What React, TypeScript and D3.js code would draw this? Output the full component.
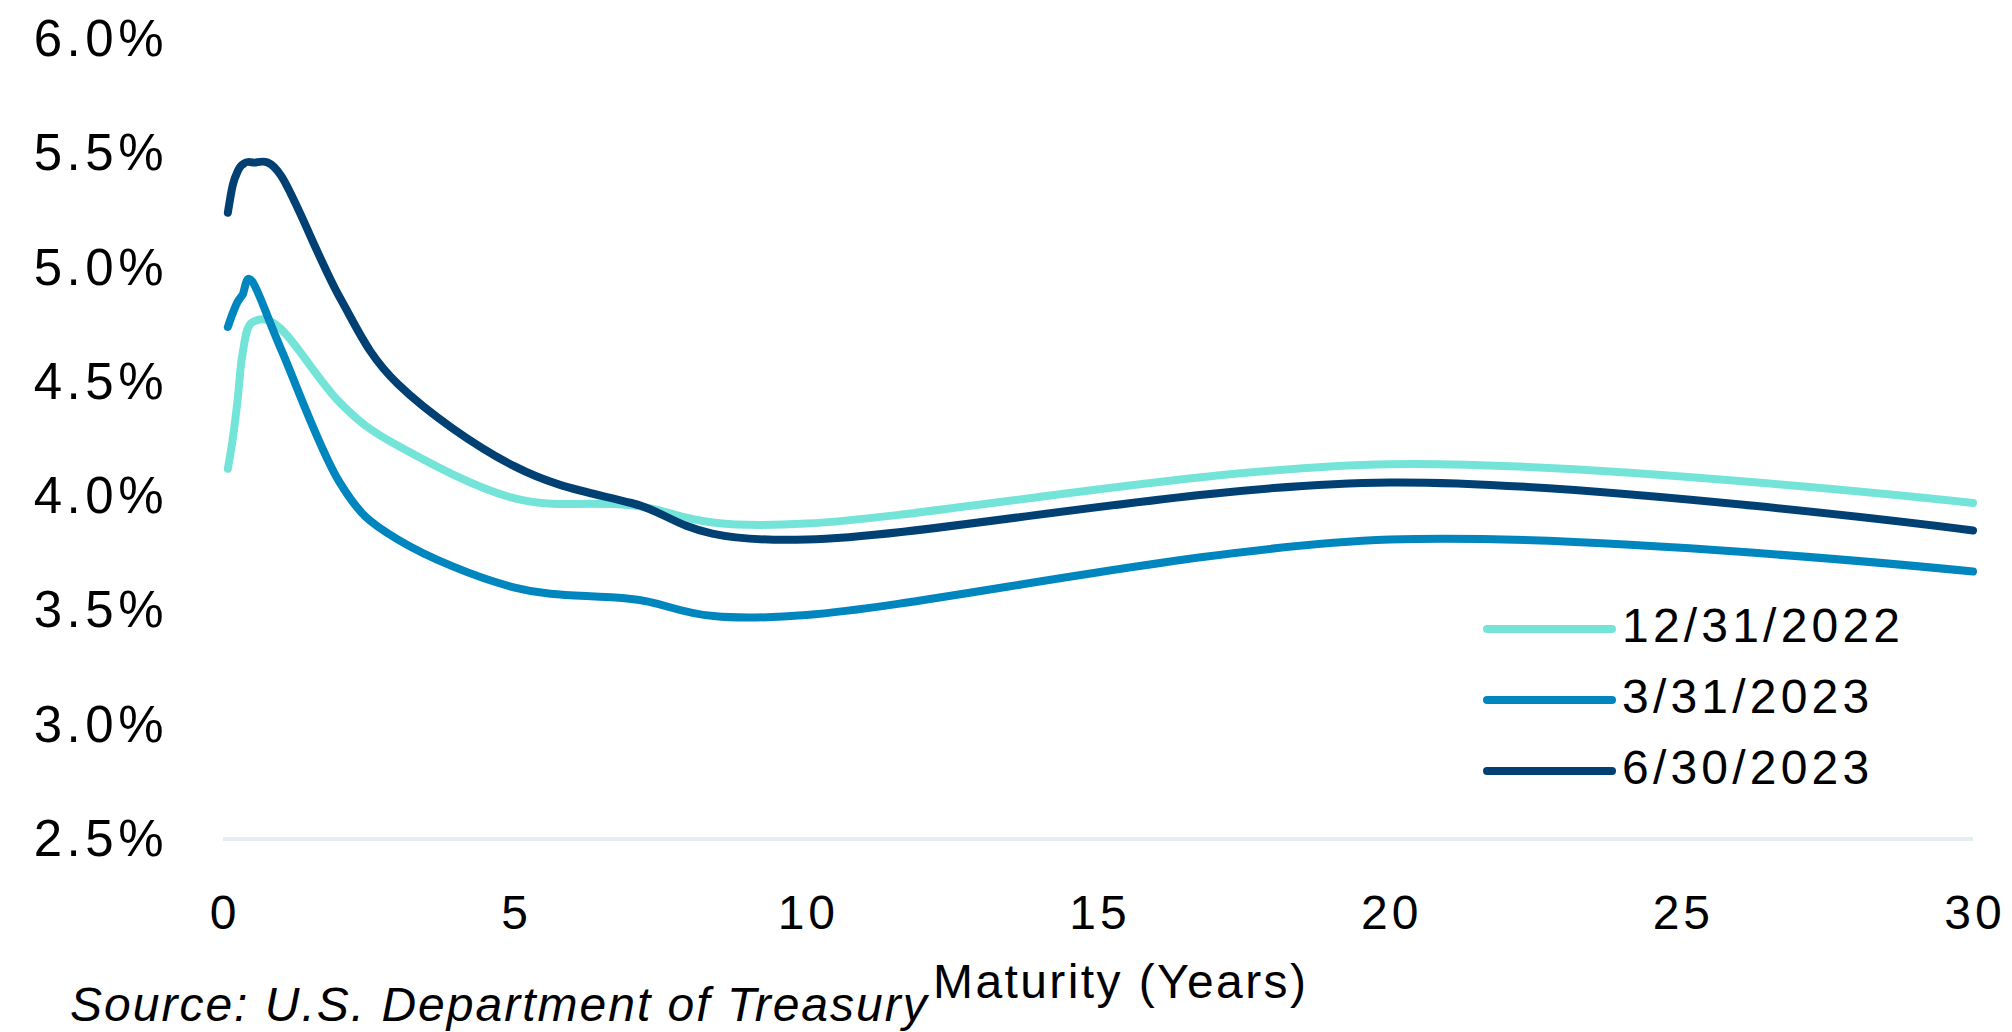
import React, { useEffect, useRef } from 'react';
import * as d3 from 'd3';

// Treasury yield curves, maturity in years and yield in %
const maturities = [1 / 12, 2 / 12, 3 / 12, 4 / 12, 0.5, 1, 2, 3, 5, 7, 10, 20, 30];
const yieldsDec2022 = [4.12, 4.25, 4.42, 4.62, 4.76, 4.73, 4.41, 4.22, 3.99, 3.96, 3.88, 4.14, 3.97];
const yieldsMar2023 = [4.74, 4.8, 4.85, 4.88, 4.94, 4.64, 4.06, 3.81, 3.6, 3.55, 3.48, 3.81, 3.67];
const yieldsJun2023 = [5.24, 5.36, 5.42, 5.45, 5.46, 5.4, 4.87, 4.49, 4.13, 3.97, 3.81, 4.06, 3.85];

const seriesNames = ['12/31/2022', '3/31/2023', '6/30/2023'];
const seriesColors = ['#75e4d8', '#0086be', '#004073'];
const xTicks = [0, 5, 10, 15, 20, 25, 30];
const yTicks = [2.5, 3.0, 3.5, 4.0, 4.5, 5.0, 5.5, 6.0];

const width = 2012;
const height = 1032;
const plot = {
  left: 223, right: 1973, top: 39, bottom: 839,
};
const font = "'Liberation Sans', Arial, sans-serif";

const App: React.FC = () => {
  const svgRef = useRef<SVGSVGElement>(null);

  useEffect(() => {
    const svg = d3.select(svgRef.current);
    svg.selectAll('*').remove();

    const x = d3.scaleLinear().domain([0, 30]).range([plot.left, plot.right]);
    const y = d3.scaleLinear().domain([2.5, 6.0]).range([plot.bottom, plot.top]);

    // Bottom gridline (only the baseline shows)
    svg.append('line')
      .attr('x1', x(0))
      .attr('x2', x(30))
      .attr('y1', y(2.5))
      .attr('y2', y(2.5))
      .attr('stroke', '#e4eeee')
      .attr('stroke-width', 4);

    // Y axis labels
    svg.append('g')
      .selectAll('text')
      .data(yTicks)
      .join('text')
      .attr('x', 168)
      .attr('y', (d) => y(d) + 17)
      .attr('text-anchor', 'end')
      .attr('font-family', font)
      .attr('font-size', 51)
      .attr('letter-spacing', 4.5)
      .attr('fill', '#000')
      .text((d) => `${d.toFixed(1)}%`);

    // X axis labels
    svg.append('g')
      .selectAll('text')
      .data(xTicks)
      .join('text')
      .attr('x', (d) => x(d) + 2)
      .attr('y', 929)
      .attr('text-anchor', 'middle')
      .attr('font-family', font)
      .attr('font-size', 48)
      .attr('letter-spacing', 4)
      .attr('fill', '#000')
      .text((d) => d);

    // Curves
    const series = [yieldsDec2022, yieldsMar2023, yieldsJun2023];
    const line = d3.line<number>()
      .x((_, i) => x(maturities[i]))
      .y((d) => y(d))
      .curve(d3.curveCardinal.tension(0));

    series.forEach((values, i) => {
      svg.append('path')
        .datum(values)
        .attr('d', line)
        .attr('fill', 'none')
        .attr('stroke', seriesColors[i])
        .attr('stroke-width', 8)
        .attr('stroke-linecap', 'round')
        .attr('stroke-linejoin', 'round');
    });

    // Legend
    const legend = svg.append('g').attr('transform', 'translate(1487,629)');
    seriesNames.forEach((name, i) => {
      const g = legend.append('g').attr('transform', `translate(0,${i * 71})`);
      g.append('line')
        .attr('x1', 0)
        .attr('x2', 125)
        .attr('stroke', seriesColors[i])
        .attr('stroke-width', 8)
        .attr('stroke-linecap', 'round');
      g.append('text')
        .attr('x', 135)
        .attr('y', 13)
        .attr('font-family', font)
        .attr('font-size', 48)
        .attr('letter-spacing', 4.2)
        .attr('fill', '#000')
        .text(name);
    });

    // Axis title and source note
    svg.append('text')
      .attr('x', 933)
      .attr('y', 998)
      .attr('font-family', font)
      .attr('font-size', 48)
      .attr('letter-spacing', 2.4)
      .attr('fill', '#000')
      .text('Maturity (Years)');

    svg.append('text')
      .attr('x', 70)
      .attr('y', 1021)
      .attr('font-family', font)
      .attr('font-size', 48)
      .attr('font-style', 'italic')
      .attr('letter-spacing', 2)
      .attr('fill', '#000')
      .text('Source: U.S. Department of Treasury');
  }, []);

  return (
    <svg
      ref={svgRef}
      width={width}
      height={height}
      style={{
        position: 'absolute', left: 0, top: 0, background: '#fff',
      }}
    />
  );
};

export default App;
